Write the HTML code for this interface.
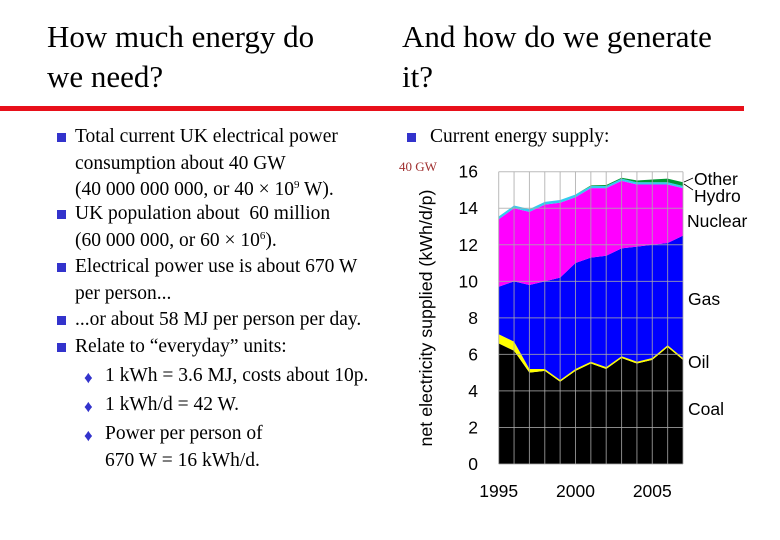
<!DOCTYPE html>
<html><head><meta charset="utf-8"><style>
body{margin:0;width:780px;height:540px;background:#fff;font-family:"Liberation Serif",serif;position:relative;overflow:hidden}
.t{position:absolute;font-size:31px;line-height:40px;color:#000}
.b{position:absolute;font-size:19.5px;line-height:26.5px;color:#000;white-space:nowrap}
.b sup{font-size:11px;line-height:0;vertical-align:7px}
.sq{position:absolute;width:9px;height:9px;background:#3333cc}
.dm{position:absolute;color:#3333cc;font-size:17px}
</style></head><body>
<div class="t" style="left:47px;top:17px">How much energy do<br>we need?</div>
<div class="t" style="left:402px;top:17px">And how do we generate<br>it?</div>
<div style="position:absolute;left:0;top:106px;width:744px;height:5px;background:#e8101a"></div>
<div>
<div class="sq" style="left:57px;top:133px"></div>
<div class="b" style="left:75px;top:124px">Total current UK electrical power<br>consumption about 40 GW<br>(40 000 000 000, or 40 × 10<sup>9</sup> W).</div>
<div class="sq" style="left:57px;top:210px"></div>
<div class="b" style="left:75px;top:201px">UK population about &nbsp;60 million<br>(60 000 000, or 60 × 10<sup>6</sup>).</div>
<div class="sq" style="left:57px;top:263px"></div>
<div class="b" style="left:75px;top:254px">Electrical power use is about 670 W<br>per person...</div>
<div class="sq" style="left:57px;top:316px"></div>
<div class="b" style="left:75px;top:307px">...or about 58 MJ per person per day.</div>
<div class="sq" style="left:57px;top:343px"></div>
<div class="b" style="left:75px;top:334px">Relate to “everyday” units:</div>
<div class="dm" style="left:84px;top:368px">♦</div>
<div class="b" style="left:105px;top:363px">1 kWh = 3.6 MJ, costs about 10p.</div>
<div class="dm" style="left:84px;top:397px">♦</div>
<div class="b" style="left:105px;top:392px">1 kWh/d = 42 W.</div>
<div class="dm" style="left:84px;top:426px">♦</div>
<div class="b" style="left:105px;top:421px">Power per person of<br>670 W = 16 kWh/d.</div>
</div>
<div class="sq" style="left:407px;top:133px"></div>
<div class="b" style="left:430px;top:124px">Current energy supply:</div>
<div style="position:absolute;left:399px;top:159px;font-size:13px;color:#a03030">40 GW</div>
<svg id="chart" width="780" height="540" style="position:absolute;left:0;top:0"></svg>
<script>
const years=[1995,1996,1997,1998,1999,2000,2001,2002,2003,2004,2005,2006,2007];
const coal=[6.6,6.2,5.0,5.1,4.5,5.1,5.5,5.2,5.8,5.5,5.7,6.4,5.7];
const oil=[0.5,0.5,0.2,0.1,0.1,0.1,0.1,0.1,0.1,0.1,0.1,0.1,0.1];
const gas=[2.6,3.3,4.6,4.8,5.6,5.8,5.7,6.1,5.9,6.3,6.2,5.6,6.7];
const nuclear=[3.7,4.0,4.0,4.2,4.1,3.6,3.8,3.7,3.7,3.4,3.3,3.2,2.6];
const hydro=[0.15,0.15,0.15,0.15,0.15,0.15,0.12,0.12,0.12,0.12,0.12,0.12,0.12];
const other=[0,0,0,0,0,0,0.03,0.05,0.05,0.1,0.15,0.2,0.2];
const yTicks=[0,2,4,6,8,10,12,14,16];
const xTicks=[1995,2000,2005];
const seriesNames=["Coal","Oil","Gas","Nuclear","Hydro","Other"];
const seriesColors=["#000000","#ffff00","#0000ff","#ff00ff","#33ccee","#009933"];
const svg=document.getElementById('chart');const NS='http://www.w3.org/2000/svg';
const X=y=>498.7+(y-1995)*(683-498.7)/12;
const Y=v=>464-v*(464-171.7)/16;
function mk(t,a){const e=document.createElementNS(NS,t);for(const k in a)e.setAttribute(k,a[k]);svg.appendChild(e);return e;}
const all=[coal,oil,gas,nuclear,hydro,other];
let base=years.map(()=>0);
all.forEach((s,i)=>{
 const top=base.map((b,j)=>b+s[j]);
 let d='M'+years.map((y,j)=>X(y)+','+Y(top[j])).join('L');
 for(let j=years.length-1;j>=0;j--)d+='L'+X(years[j])+','+Y(base[j]);
 const p=mk('path',{d:d+'Z',fill:seriesColors[i]});
 
 
 base=top;
});
years.forEach(y=>{const l=mk('line',{x1:X(y),x2:X(y),y1:Y(16),y2:Y(0),stroke:'#aaa','stroke-width':1,opacity:0.8});
});
yTicks.forEach(v=>{const l=mk('line',{x1:X(1995),x2:X(2007),y1:Y(v),y2:Y(v),stroke:'#aaa','stroke-width':1,opacity:0.8});

const t=mk('text',{x:478,y:Y(v)+6,'text-anchor':'end','font-family':'Liberation Sans, sans-serif','font-size':17.5});t.textContent=v;
});
xTicks.forEach(v=>{const t=mk('text',{x:X(v),y:497,'text-anchor':'middle','font-family':'Liberation Sans, sans-serif','font-size':17.5});t.textContent=v;
});
const yt=mk('text',{transform:'translate(432,318) rotate(-90)','text-anchor':'middle','font-family':'Liberation Sans, sans-serif','font-size':17.8});
yt.textContent='net electricity supplied (kWh/d/p)';

const labs=[["Other",694,185],["Hydro",694,202],["Nuclear",687,227],["Gas",688,305],["Oil",688,368],["Coal",688,415]];
labs.forEach(a=>{const t=mk('text',{x:a[1],y:a[2],'font-family':'Liberation Sans, sans-serif','font-size':17.5});t.textContent=a[0];
});
const ll=mk('path',{d:'M684,182 L693,178 M684,184 L693,190',stroke:'#000','stroke-width':0.8,fill:'none'});

</script>
</body></html>
